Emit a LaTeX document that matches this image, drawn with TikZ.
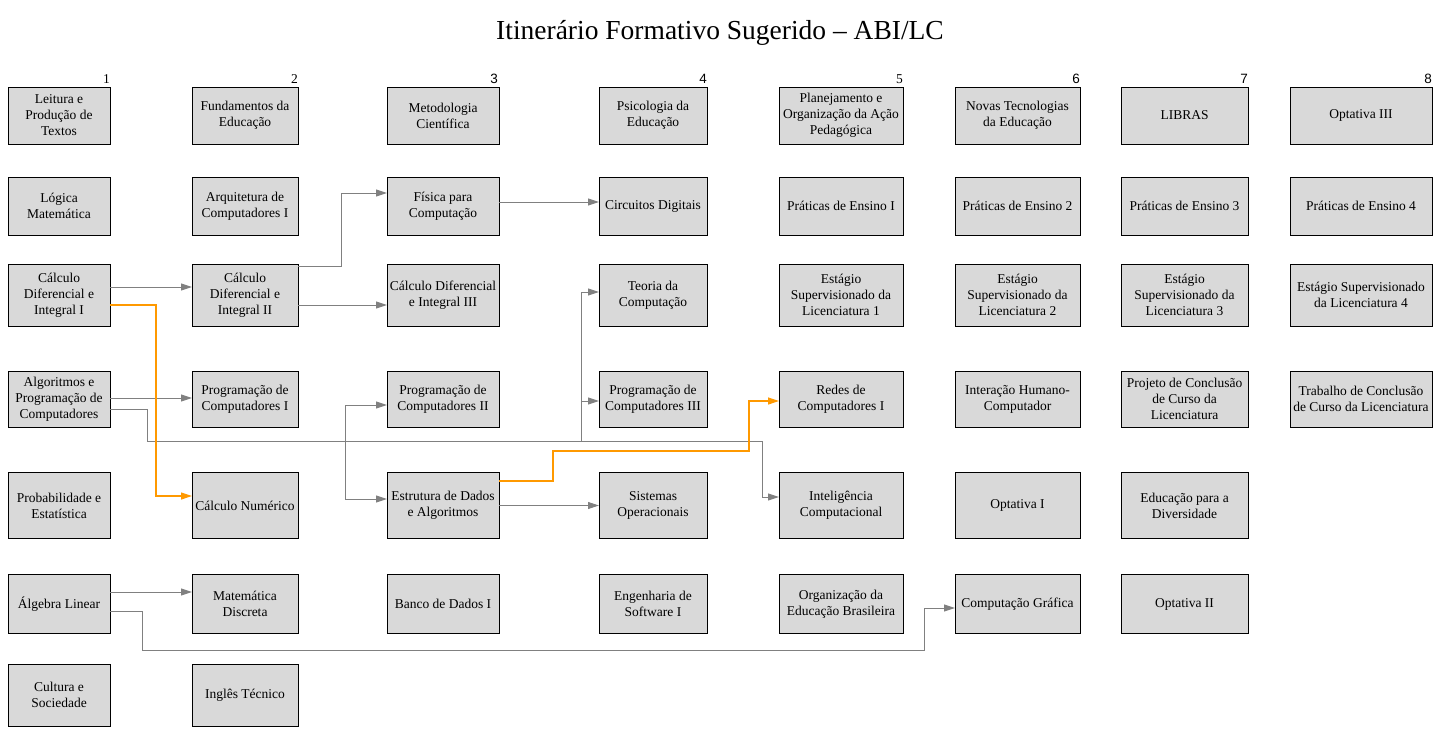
\documentclass[tikz,border=0pt]{standalone}
\usepackage{fontspec}
\setmainfont{Liberation Serif}
\newfontfamily\numsans{Liberation Sans}
\usetikzlibrary{arrows.meta}
\definecolor{boxfill}{HTML}{D9D9D9}
\definecolor{edgegray}{HTML}{808080}
\definecolor{edgeorange}{HTML}{FF9900}
\tikzset{
  course/.style={draw=black, line width=1pt, fill=boxfill, rectangle, inner sep=0pt, outer sep=0pt,
    align=center, font=\fontsize{13.5}{16}\selectfont},
  ge/.style={draw=edgegray, line width=1pt, -{Triangle[length=11pt,width=7pt]}},
  oe/.style={draw=edgeorange, line width=1.2pt, -{Triangle[length=11pt,width=7pt]}},
  semnum/.style={anchor=base east, inner sep=0pt, font=\fontsize{13.5}{16}\selectfont},
  sansnum/.style={semnum, font=\numsans\fontsize{13.5}{16}\selectfont},
  w1/.style={minimum width=102pt}, w2/.style={minimum width=106pt}, w3/.style={minimum width=112pt},
  w4/.style={minimum width=108pt}, w5/.style={minimum width=124pt}, w6/.style={minimum width=125pt},
  w7/.style={minimum width=127pt}, w8/.style={minimum width=142pt},
  h1/.style={minimum height=57pt}, h2/.style={minimum height=58pt}, h3/.style={minimum height=62pt},
  h4/.style={minimum height=56pt}, h5/.style={minimum height=66pt}, h6/.style={minimum height=59pt},
  h7/.style={minimum height=62pt},
}
\begin{document}
\begin{tikzpicture}[x=1pt,y=-1pt]
\useasboundingbox (0,0) rectangle (1441,755);
\node[font=\fontsize{27.5}{30}\selectfont, anchor=base] (title) at (720,39) {Itinerário Formativo Sugerido – ABI/LC};
% semester numbers
\node[semnum] (n1) at (110,83) {1};
\node[semnum] (n2) at (298,83) {2};
\node[sansnum] (n3) at (498,83) {3};
\node[sansnum] (n4) at (707,83) {4};
\node[semnum] (n5) at (903,83) {5};
\node[sansnum] (n6) at (1080,83) {6};
\node[sansnum] (n7) at (1248,83) {7};
\node[sansnum] (n8) at (1432,83) {8};
% column 1
\node[course,w1,h1] (c11) at (59,115.5) {Leitura e\\Produção de\\Textos};
\node[course,w1,h2] (c12) at (59,206) {Lógica\\Matemática};
\node[course,w1,h3] (c13) at (59,295) {Cálculo\\Diferencial e\\Integral I};
\node[course,w1,h4] (c14) at (59,399) {Algoritmos e\\Programação de\\Computadores};
\node[course,w1,h5] (c15) at (59,505.5) {Probabilidade e\\Estatística};
\node[course,w1,h6] (c16) at (59,604) {Álgebra Linear};
\node[course,w1,h7] (c17) at (59,695) {Cultura e\\Sociedade};
% column 2
\node[course,w2,h1] (c21) at (245,115.5) {Fundamentos da\\Educação};
\node[course,w2,h2] (c22) at (245,206) {Arquitetura de\\Computadores I};
\node[course,w2,h3] (c23) at (245,295) {Cálculo\\Diferencial e\\Integral II};
\node[course,w2,h4] (c24) at (245,399) {Programação de\\Computadores I};
\node[course,w2,h5] (c25) at (245,505.5) {Cálculo Numérico};
\node[course,w2,h6] (c26) at (245,604) {Matemática\\Discreta};
\node[course,w2,h7] (c27) at (245,695) {Inglês Técnico};
% column 3
\node[course,w3,h1] (c31) at (443,115.5) {Metodologia\\Científica};
\node[course,w3,h2] (c32) at (443,206) {Física para\\Computação};
\node[course,w3,h3] (c33) at (443,295) {Cálculo Diferencial\\e Integral III};
\node[course,w3,h4] (c34) at (443,399) {Programação de\\Computadores II};
\node[course,w3,h5] (c35) at (443,505.5) {Estrutura de Dados\\e Algoritmos};
\node[course,w3,h6] (c36) at (443,604) {Banco de Dados I};
% column 4
\node[course,w4,h1] (c41) at (653,115.5) {Psicologia da\\Educação};
\node[course,w4,h2] (c42) at (653,206) {Circuitos Digitais};
\node[course,w4,h3] (c43) at (653,295) {Teoria da\\Computação};
\node[course,w4,h4] (c44) at (653,399) {Programação de\\Computadores III};
\node[course,w4,h5] (c45) at (653,505.5) {Sistemas\\Operacionais};
\node[course,w4,h6] (c46) at (653,604) {Engenharia de\\Software I};
% column 5
\node[course,w5,h1] (c51) at (841,115.5) {Planejamento e\\Organização da Ação\\Pedagógica};
\node[course,w5,h2] (c52) at (841,206) {Práticas de Ensino I};
\node[course,w5,h3] (c53) at (841,295) {Estágio\\Supervisionado da\\Licenciatura 1};
\node[course,w5,h4] (c54) at (841,399) {Redes de\\Computadores I};
\node[course,w5,h5] (c55) at (841,505.5) {Inteligência\\Computacional};
\node[course,w5,h6] (c56) at (841,604) {Organização da\\Educação Brasileira};
% column 6
\node[course,w6,h1] (c61) at (1017.5,115.5) {Novas Tecnologias\\da Educação};
\node[course,w6,h2] (c62) at (1017.5,206) {Práticas de Ensino 2};
\node[course,w6,h3] (c63) at (1017.5,295) {Estágio\\Supervisionado da\\Licenciatura 2};
\node[course,w6,h4] (c64) at (1017.5,399) {Interação Humano-\\Computador};
\node[course,w6,h5] (c65) at (1017.5,505.5) {Optativa I};
\node[course,w6,h6] (c66) at (1017.5,604) {Computação Gráfica};
% column 7
\node[course,w7,h1] (c71) at (1184.5,115.5) {LIBRAS};
\node[course,w7,h2] (c72) at (1184.5,206) {Práticas de Ensino 3};
\node[course,w7,h3] (c73) at (1184.5,295) {Estágio\\Supervisionado da\\Licenciatura 3};
\node[course,w7,h4] (c74) at (1184.5,399) {Projeto de Conclusão\\de Curso da\\Licenciatura};
\node[course,w7,h5] (c75) at (1184.5,505.5) {Educação para a\\Diversidade};
\node[course,w7,h6] (c76) at (1184.5,604) {Optativa II};
% column 8
\node[course,w8,h1] (c81) at (1361,115.5) {Optativa III};
\node[course,w8,h2] (c82) at (1361,206) {Práticas de Ensino 4};
\node[course,w8,h3] (c83) at (1361,295) {Estágio Supervisionado\\da Licenciatura 4};
\node[course,w8,h4] (c84) at (1361,399) {Trabalho de Conclusão\\de Curso da Licenciatura};
% bend points
\coordinate (a1) at (147,441);
\coordinate (a2) at (345,441);
\coordinate (a3) at (581,441);
\coordinate (a4) at (762,441);
% edges
\draw[ge] ([yshift=8pt]c13.east) -- ([yshift=8pt]c23.west);
\draw[ge] ([yshift=29pt]c23.east) -| (341,193) -- ([yshift=13pt]c32.west);
\draw[ge] ([yshift=-10pt]c23.east) -- ([yshift=-10pt]c33.west);
\draw[ge] ([yshift=4pt]c32.east) -- ([yshift=4pt]c42.west);
\draw[ge] ([yshift=1pt]c14.east) -- ([yshift=1pt]c24.west);
\draw[ge] ([yshift=-10pt]c14.east) -| (a1) -- (a2) |- ([yshift=-6pt]c34.west);
\draw[ge] ([yshift=-10pt]c14.east) -| (a1) -- (a2) |- ([yshift=6.5pt]c35.west);
\draw[ge] ([yshift=-10pt]c14.east) -| (a1) -- (a3) |- ([yshift=3pt]c43.west);
\draw[ge] ([yshift=-10pt]c14.east) -| (a1) -- (a3) |- ([yshift=-2pt]c44.west);
\draw[ge] ([yshift=-10pt]c14.east) -| (a1) -- (a4) |- ([yshift=8.5pt]c55.west);
\draw[ge] (c35.east) -- (c45.west);
\draw[ge] ([yshift=12pt]c16.east) -- ([yshift=12pt]c26.west);
\draw[ge] ([yshift=-7pt]c16.east) -| (142,650) -| (924,608) -- ([yshift=-4pt]c66.west);
\draw[oe] ([yshift=-10pt]c13.east) -| (156,496) -- ([yshift=9.5pt]c25.west);
\draw[oe] ([yshift=24.5pt]c35.east) -| (553,451) -| (749,401) -- ([yshift=-2pt]c54.west);
\end{tikzpicture}
\end{document}
